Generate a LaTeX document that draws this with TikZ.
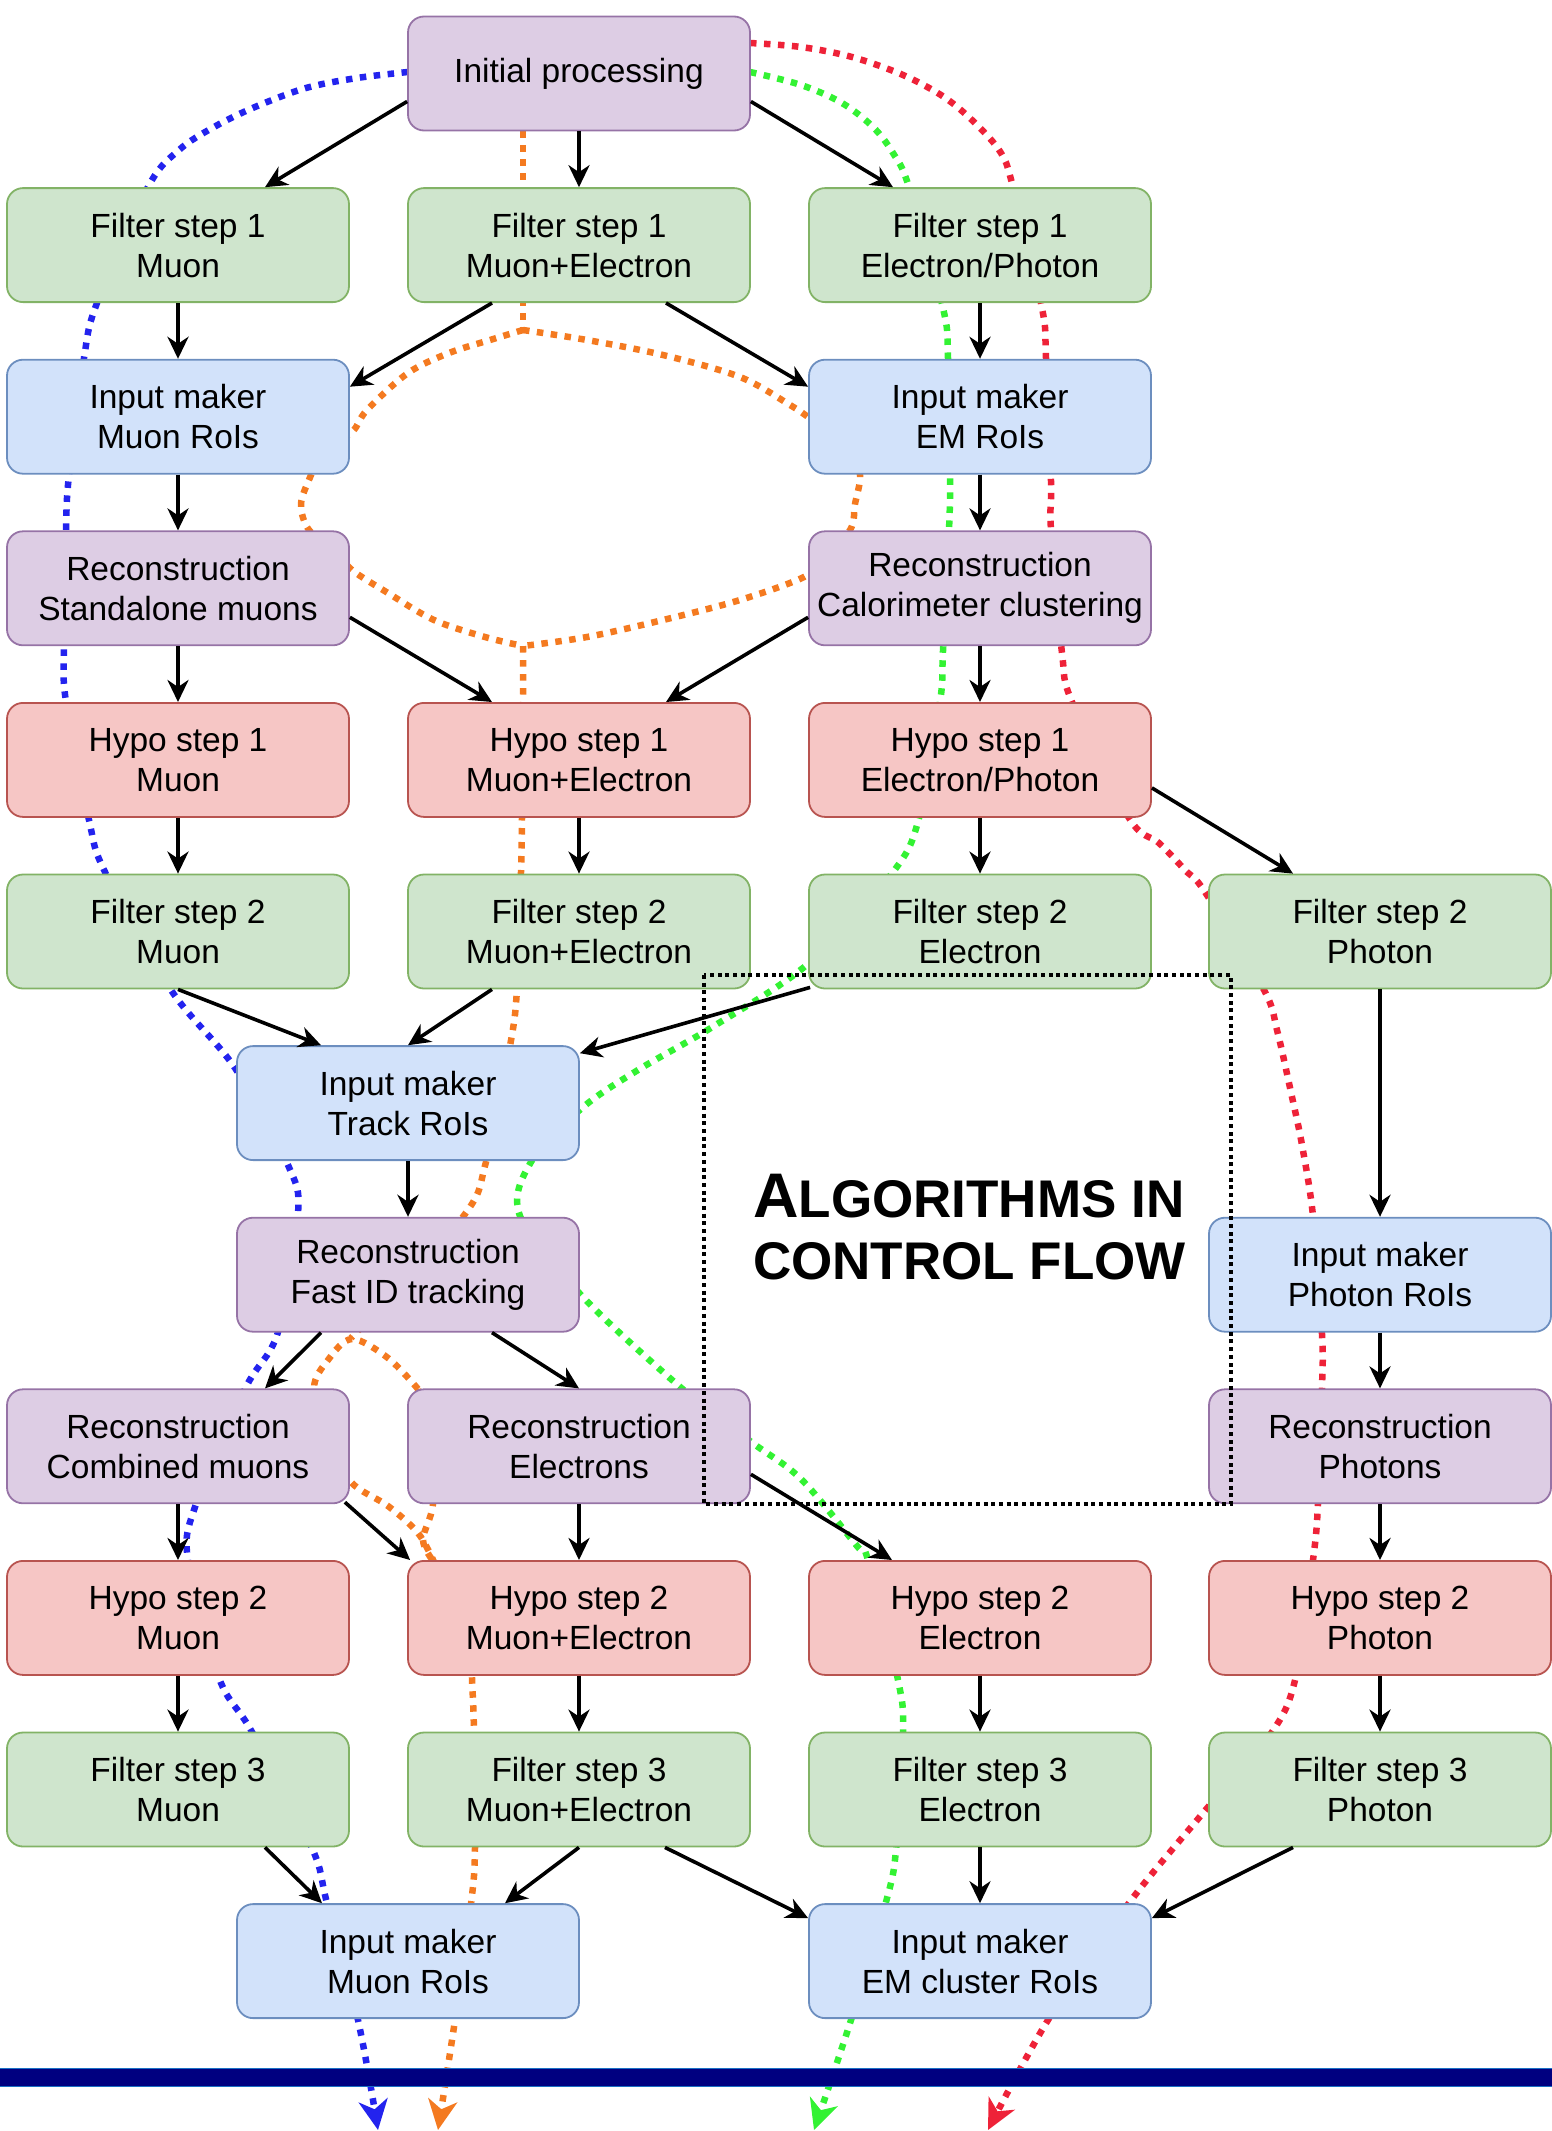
\documentclass[tikz,border=0pt]{standalone}
\usepackage{fontspec}
\setmainfont{Liberation Sans}
\usetikzlibrary{arrows.meta,calc}
\definecolor{purF}{HTML}{DDCDE4}
\definecolor{purD}{HTML}{9673A6}
\definecolor{grnF}{HTML}{CFE5CD}
\definecolor{grnD}{HTML}{82B366}
\definecolor{bluF}{HTML}{D2E2FA}
\definecolor{bluD}{HTML}{6C8EBF}
\definecolor{redF}{HTML}{F6C6C5}
\definecolor{redD}{HTML}{B85450}
\definecolor{fblue}{HTML}{2323EE}
\definecolor{forange}{HTML}{F47A20}
\definecolor{fgreen}{HTML}{33F233}
\definecolor{fred}{HTML}{EE2238}
\definecolor{barnavy}{HTML}{000080}
\definecolor{baredge}{HTML}{1A6FC4}
\begin{document}
\begin{tikzpicture}[x=1pt,y=-1pt,
  box/.style={draw, line width=1.8pt, rounded corners=16pt, minimum width=342pt,
    minimum height=114pt, inner sep=0pt, align=center,
    font=\fontsize{33.5}{40}\selectfont, text=black},
  pur/.style={box, fill=purF, draw=purD},
  grn/.style={box, fill=grnF, draw=grnD},
  blu/.style={box, fill=bluF, draw=bluD},
  rd/.style={box, fill=redF, draw=redD},
  arr/.style={line width=3.6pt, -{Stealth[length=22pt,width=21pt,inset=7pt]}},
  flow/.style={line width=6.5pt, dash pattern=on 6.5pt off 7.5pt},
  flowtip/.style={-{Stealth[length=30pt,width=29pt,inset=9pt]}},
  sm/.style={smooth, tension=0.55}
]
\useasboundingbox (0,0) rectangle (1552,2131);

% ---------- coloured data-flow paths (behind the boxes) ----------
% blue
\draw[flow, fblue, flowtip] plot[sm] coordinates {(408,72) (357,78) (306,88) (255,107) (214,127) (179,150) (148,187)
  (97,303) (84,358) (69,475) (66,530) (64,646) (66,702) (89,820) (105,872) (171,990) (235,1068)
  (288,1165) (298,1214) (278,1332) (245,1389) (196,1504) (188,1561) (219,1678) (252,1732)
  (312,1848) (327,1903) (358,2020) (378,2130)};
% orange
\draw[flow, forange] (523,131) -- (523,330);
\draw[flow, forange] plot[sm] coordinates {(523,330) (490,340) (449,353) (408,373) (367,410) (352,432)
  (320,455) (311,475) (301,504) (309,530) (335,550) (352,570) (388,593) (434,620) (485,637) (523,646)};
\draw[flow, forange] plot[sm] coordinates {(523,330) (587,340) (663,355) (740,377) (790,405) (812,420)
  (850,450) (860,475) (855,504) (850,530) (820,560) (804,577) (740,600) (663,620) (587,637) (523,646)};
\draw[flow, forange] plot[sm] coordinates {(523,646) (523,702) (522,818) (521,872) (517,989) (510,1046)
  (486,1162) (462,1218) (351,1338)};
\draw[flow, forange] plot[sm] coordinates {(418,1389) (388,1358) (352,1339) (328,1360) (314,1389)
  (330,1440) (351,1482) (388,1506) (418,1533) (434,1562)};
\draw[flow, forange] plot[sm] coordinates {(418,1389) (430,1450) (433,1504) (423,1540) (434,1562)};
\draw[flow, forange, flowtip] plot[sm] coordinates {(434,1562) (470,1620) (472,1678) (474,1732)
  (475,1848) (471,1904) (455,2020) (438,2130)};
% green
\draw[flow, fgreen, flowtip] plot[sm] coordinates {(750,72) (801,85) (842,103) (873,127) (893,153) (909,187)
  (943,308) (948,358) (950,475) (949,530) (943,651) (940,702) (919,818) (893,872)
  (809,963) (714,1026) (638,1070) (582,1108) (531,1162) (520,1216) (582,1296) (679,1386)
  (750,1441) (801,1479) (857,1546) (868,1560) (898,1680) (903,1732) (896,1850) (886,1902)
  (851,2020) (814,2130)};
% red
\draw[flow, fred, flowtip] plot[sm] coordinates {(750,43) (801,47) (852,57) (903,75) (944,97) (975,123)
  (1001,153) (1013,187) (1042,308) (1046,358) (1051,481) (1051,530) (1062,653) (1072,702)
  (1129,818) (1159,843) (1185,870) (1205,892) (1264,990) (1277,1030) (1292,1097) (1302,1145)
  (1313,1216) (1322,1334) (1322,1388) (1318,1504) (1313,1560) (1296,1676) (1272,1732)
  (1203,1813) (1129,1903) (1048,2020) (988,2130)};

% ---------- nodes ----------
\node[pur] (init) at (579,73.5) {Initial processing};
\node[grn] (fs1m) at (178,245.1) {Filter step 1\\Muon};
\node[grn] (fs1me) at (579,245.1) {Filter step 1\\Muon+Electron};
\node[grn] (fs1ep) at (980,245.1) {Filter step 1\\Electron/Photon};
\node[blu] (imm) at (178,416.7) {Input maker\\Muon RoIs};
\node[blu] (imem) at (980,416.7) {Input maker\\EM RoIs};
\node[pur] (rsa) at (178,588.3) {Reconstruction\\Standalone muons};
\node[pur] (rcalo) at (980,588.3) {Reconstruction\\Calorimeter clustering};
\node[rd] (h1m) at (178,759.9) {Hypo step 1\\Muon};
\node[rd] (h1me) at (579,759.9) {Hypo step 1\\Muon+Electron};
\node[rd] (h1ep) at (980,759.9) {Hypo step 1\\Electron/Photon};
\node[grn] (fs2m) at (178,931.5) {Filter step 2\\Muon};
\node[grn] (fs2me) at (579,931.5) {Filter step 2\\Muon+Electron};
\node[grn] (fs2e) at (980,931.5) {Filter step 2\\Electron};
\node[grn] (fs2p) at (1380,931.5) {Filter step 2\\Photon};
\node[blu] (imt) at (408,1103.1) {Input maker\\Track RoIs};
\node[pur] (fid) at (408,1274.7) {Reconstruction\\Fast ID tracking};
\node[blu] (imp) at (1380,1274.7) {Input maker\\Photon RoIs};
\node[pur] (rcm) at (178,1446.3) {Reconstruction\\Combined muons};
\node[pur] (re) at (579,1446.3) {Reconstruction\\Electrons};
\node[pur] (rph) at (1380,1446.3) {Reconstruction\\Photons};
\node[rd] (h2m) at (178,1617.9) {Hypo step 2\\Muon};
\node[rd] (h2me) at (579,1617.9) {Hypo step 2\\Muon+Electron};
\node[rd] (h2e) at (980,1617.9) {Hypo step 2\\Electron};
\node[rd] (h2p) at (1380,1617.9) {Hypo step 2\\Photon};
\node[grn] (fs3m) at (178,1789.5) {Filter step 3\\Muon};
\node[grn] (fs3me) at (579,1789.5) {Filter step 3\\Muon+Electron};
\node[grn] (fs3e) at (980,1789.5) {Filter step 3\\Electron};
\node[grn] (fs3p) at (1380,1789.5) {Filter step 3\\Photon};
\node[blu] (imb) at (408,1961.1) {Input maker\\Muon RoIs};
\node[blu] (imc) at (980,1961.1) {Input maker\\EM cluster RoIs};

% ---------- black control-flow arrows ----------
\draw[arr] ($(init.west)+(0,28)$) -- ($(fs1m.north)+(87,0)$);
\draw[arr] (init.south) -- (fs1me.north);
\draw[arr] ($(init.east)+(0,28)$) -- ($(fs1ep.north)+(-87,0)$);
\draw[arr] (fs1m.south) -- (imm.north);
\draw[arr] ($(fs1me.south)+(-87,0)$) -- ($(imm.east)+(0,-30)$);
\draw[arr] ($(fs1me.south)+(87,0)$) -- ($(imem.west)+(0,-30)$);
\draw[arr] (fs1ep.south) -- (imem.north);
\draw[arr] (imm.south) -- (rsa.north);
\draw[arr] (imem.south) -- (rcalo.north);
\draw[arr] (rsa.south) -- (h1m.north);
\draw[arr] ($(rsa.east)+(0,29)$) -- ($(h1me.north)+(-87,0)$);
\draw[arr] ($(rcalo.west)+(0,29)$) -- ($(h1me.north)+(87,0)$);
\draw[arr] (rcalo.south) -- (h1ep.north);
\draw[arr] (h1m.south) -- (fs2m.north);
\draw[arr] (h1me.south) -- (fs2me.north);
\draw[arr] (h1ep.south) -- (fs2e.north);
\draw[arr] ($(h1ep.east)+(0,28)$) -- ($(fs2p.north)+(-87,0)$);
\draw[arr] (fs2m.south) -- ($(imt.north)+(-87,0)$);
\draw[arr] ($(fs2me.south)+(-87,0)$) -- (imt.north);
\draw[arr] ($(fs2e.south west)+(2,-2)$) -- ($(imt.north east)+(0,8)$);
\draw[arr] (fs2p.south) -- (imp.north);
\draw[arr] (imt.south) -- (fid.north);
\draw[arr] ($(fid.south)+(-87,0)$) -- ($(rcm.north)+(87,0)$);
\draw[arr] ($(fid.south)+(84,0)$) -- (re.north);
\draw[arr] (imp.south) -- (rph.north);
\draw[arr] (rcm.south) -- (h2m.north);
\draw[arr] ($(rcm.south east)+(-5,-2)$) -- ($(h2me.north west)+(3,0)$);
\draw[arr] (re.south) -- (h2me.north);
\draw[arr] ($(re.east)+(0,28)$) -- ($(h2e.north)+(-88,0)$);
\draw[arr] (rph.south) -- (h2p.north);
\draw[arr] (h2m.south) -- (fs3m.north);
\draw[arr] (h2me.south) -- (fs3me.north);
\draw[arr] (h2e.south) -- (fs3e.north);
\draw[arr] (h2p.south) -- (fs3p.north);
\draw[arr] ($(fs3m.south)+(87,0)$) -- ($(imb.north)+(-86,0)$);
\draw[arr] (fs3me.south) -- ($(imb.north)+(97,0)$);
\draw[arr] ($(fs3me.south)+(86,0)$) -- ($(imc.west)+(0,-43)$);
\draw[arr] (fs3e.south) -- (imc.north);
\draw[arr] ($(fs3p.south)+(-87,0)$) -- ($(imc.east)+(0,-43)$);

% ---------- control-flow frame and title ----------
\draw[line width=4pt, dash pattern=on 4pt off 3.7pt] (704,975) rectangle (1231,1504);
\node[anchor=base west, inner sep=0pt, font=\bfseries] (title1) at (753,1217)
  {{\fontsize{63}{63}\selectfont A}{\fontsize{53}{53}\selectfont LGORITHMS IN}};
\node[anchor=base west, inner sep=0pt, font=\bfseries] (title2) at (753,1279)
  {\fontsize{53}{53}\selectfont CONTROL FLOW};

% ---------- bar ----------
\draw[fill=barnavy, draw=baredge, line width=1pt] (-2,2068) rectangle (1554,2086);
\end{tikzpicture}
\end{document}
